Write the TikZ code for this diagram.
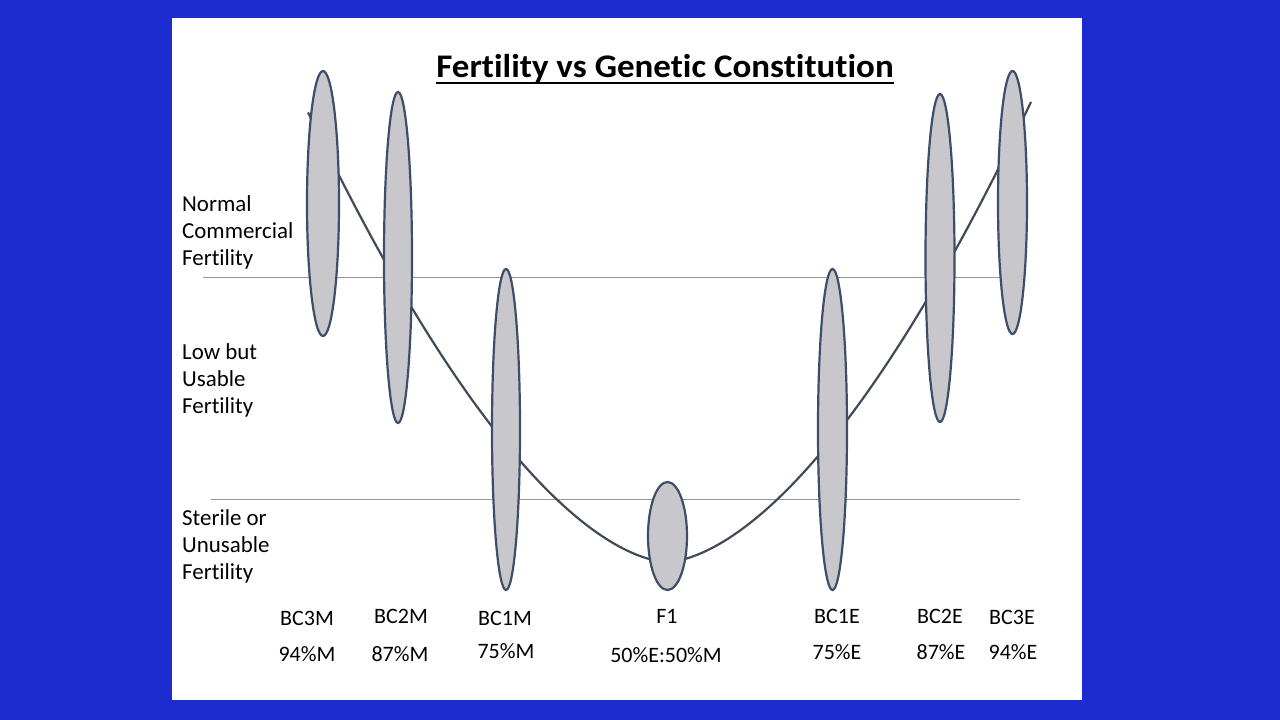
\documentclass[tikz,border=0pt]{standalone}
\usepackage{fontspec}
\setmainfont{Carlito}[Ligatures=NoCommon]
\usetikzlibrary{shapes.geometric}
\definecolor{bgblue}{RGB}{28,44,208}
\definecolor{ovalfill}{RGB}{200,200,204}
\definecolor{ovaledge}{RGB}{62,78,106}
\definecolor{curvecol}{RGB}{66,74,88}
\definecolor{levelcol}{RGB}{150,150,150}
\begin{document}
\begin{tikzpicture}[x=1pt,y=-1pt,
  oval/.style={ellipse, draw=ovaledge, line width=2.2pt, fill=ovalfill, inner sep=0pt, outer sep=0pt},
  lbl/.style={font=\fontsize{22.9}{27}\selectfont, inner sep=0pt, anchor=base west},
  cat/.style={font=\fontsize{22}{26}\selectfont, inner sep=0pt, anchor=base},
  level/.style={draw=levelcol, line width=1pt},
  trend/.style={draw=curvecol, line width=2.2pt, line join=round}]
\useasboundingbox (0,0) rectangle (1280,720);
\fill[bgblue] (0,0) rectangle (1280,720);
\fill[white] (172,18) rectangle (1082,700);

% title
\node[font=\fontsize{33}{40}\selectfont\bfseries, inner sep=0pt, anchor=base, xscale=1.06] (title) at (665,77.5) {Fertility vs Genetic Constitution};
\draw[line width=2.2pt] ([yshift=-5.5pt]title.base west) -- ([yshift=-5.5pt]title.base east);

% level lines
\coordinate (u1) at (203,277);
\coordinate (u2) at (1000,277);
\coordinate (l1) at (211,499);
\coordinate (l2) at (1020,499);
\draw[level] (u1) -- (u2);
\draw[level] (l1) -- (l2);

% trend curve
\draw[trend] plot[domain=308:1031, samples=200, smooth]
  (\x, {562-53.2*(abs(\x-667)/100+0.00001)^1.67});

% ovals
\node[oval, minimum width=32, minimum height=265] (bc3m) at (323,203.5) {};
\node[oval, minimum width=28, minimum height=331] (bc2m) at (398,257.5) {};
\node[oval, minimum width=28, minimum height=321] (bc1m) at (506,429.5) {};
\node[oval, minimum width=39, minimum height=108] (f1) at (667.5,536) {};
\node[oval, minimum width=29, minimum height=321] (bc1e) at (832.5,429.5) {};
\node[oval, minimum width=29, minimum height=328] (bc2e) at (940,258) {};
\node[oval, minimum width=29, minimum height=263] (bc3e) at (1012.5,202.5) {};

% left labels
\node[lbl] (n1) at (182,211.5) {Normal};
\node[lbl] (n2) at (182,238.5) {Commercial};
\node[lbl] (n3) at (182,265.5) {Fertility};
\node[lbl] (lo1) at (182,359) {Low but};
\node[lbl] (lo2) at (182,386) {Usable};
\node[lbl] (lo3) at (182,413) {Fertility};
\node[lbl] (s1) at (182,525) {Sterile or};
\node[lbl] (s2) at (182,552) {Unusable};
\node[lbl] (s3) at (182,579) {Fertility};

% bottom labels
\node[cat] (t1) at (307,625.5) {BC3M};
\node[cat] (t2) at (401,623) {BC2M};
\node[cat] (t3) at (505,625) {BC1M};
\node[cat] (t4) at (667,623) {F1};
\node[cat] (t5) at (837,623) {BC1E};
\node[cat] (t6) at (940,623) {BC2E};
\node[cat] (t7) at (1012,624) {BC3E};
\node[cat] (p1) at (307,661) {94\%M};
\node[cat] (p2) at (400,661) {87\%M};
\node[cat] (p3) at (506,658) {75\%M};
\node[cat] (p4) at (666,662) {50\%E:50\%M};
\node[cat] (p5) at (837,659) {75\%E};
\node[cat] (p6) at (941,659) {87\%E};
\node[cat] (p7) at (1013,659) {94\%E};
\end{tikzpicture}
\end{document}
